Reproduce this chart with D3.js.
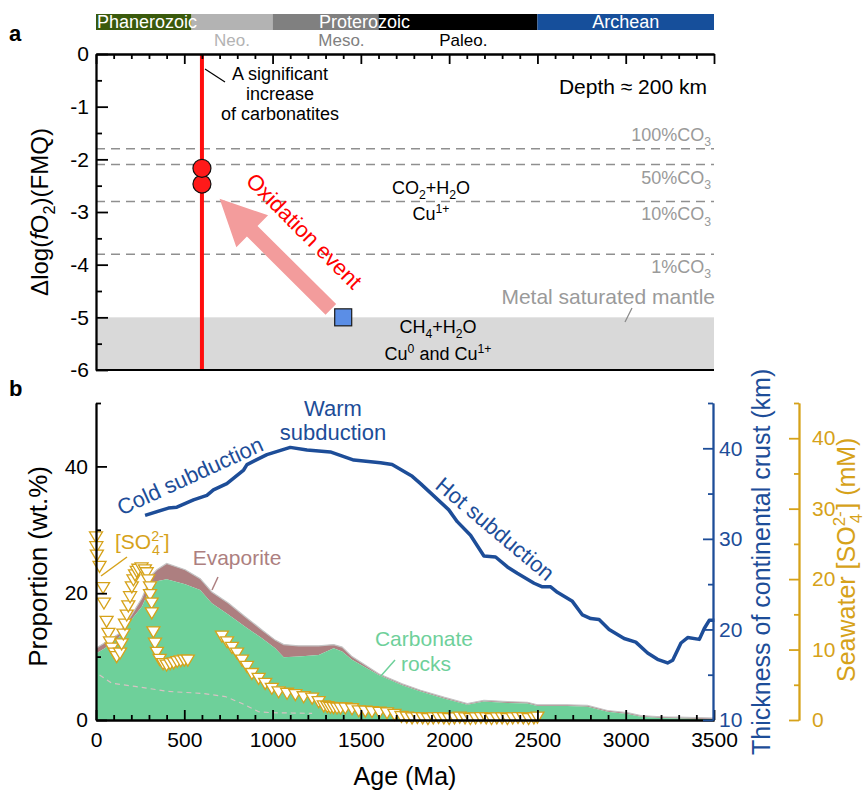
<!DOCTYPE html>
<html>
<head>
<meta charset="utf-8">
<script src="https://cdn.jsdelivr.net/npm/d3@7"></script>
<style>
  body { margin: 0; background: #fff; }
  svg text { font-family: "Liberation Sans", Arial, Helvetica, sans-serif; }
</style>
</head>
<body>
<svg id="chart" width="867" height="792"></svg>
<script>
// ---- data ----
// geologic time bar (Ma)
const eonNames = ["Phanerozoic", "Proterozoic", "Archean"];
const segStart = [0, 541, 1000, 1600, 2500];
const segEnd = [541, 1000, 1600, 2500, 3500];
const eraNames = ["Neo.", "Meso.", "Paleo."];

// panel a
const xTicks = [0, 500, 1000, 1500, 2000, 2500, 3000, 3500];
const fo2Ticks = [0, -1, -2, -3, -4, -5, -6];
const co3Names = ["100%", "50%", "10%", "1%"];
const co3Levels = [-1.8, -2.1, -2.8, -3.8];
const eventAge = 600;
const kimberliteFo2 = [-2.47, -2.17];
const mantleAge = 1400, mantleFo2 = -5;

// panel b
const propTicks = [0, 20, 40];
const crustTicks = [10, 20, 30, 40];
const so4Ticks = [0, 10, 20, 30, 40];

const areaAge = [0, 50, 130, 200, 260, 316, 345, 400, 505, 590, 656, 751, 845, 940, 1015, 1063, 1148, 1261, 1346, 1394, 1450, 1601, 1734, 1838, 1970, 2103, 2197, 2330, 2443, 2500, 2670, 2783, 2897, 3010, 3086, 3199, 3294, 3500];
const carbonate = [10.5, 11.3, 13.0, 15.8, 17.9, 21.3, 21.9, 22.2, 21.4, 20.5, 18.4, 16.6, 14.7, 12.9, 11.3, 9.9, 10.0, 10.25, 11.3, 10.8, 9.5, 7.1, 5.5, 4.5, 3.4, 2.4, 2.9, 2.7, 2.6, 2.2, 2.2, 2.1, 1.3, 0.95, 0.5, 0.3, 0.25, 0.1];
const evaporiteTop = [11.3, 12.2, 13.6, 16.5, 19.2, 22.9, 23.7, 24.7, 23.7, 22.3, 20.2, 18.4, 16.3, 14.2, 12.6, 11.9, 11.7, 11.7, 11.9, 11.5, 10.0, 7.3, 5.7, 4.7, 3.6, 2.6, 3.1, 2.9, 2.8, 2.4, 2.4, 2.3, 1.5, 1.15, 0.7, 0.5, 0.45, 0.3];

const dashAge = [20, 89, 221, 410, 600, 732, 827, 921, 997, 1224];
const dashVal = [7.1, 5.8, 5.3, 4.5, 4.2, 3.7, 2.6, 1.3, 1.15, 1.05];

const crustAge = [278, 410, 458, 552, 628, 665, 741, 836, 855, 968, 1100, 1195, 1327, 1460, 1611, 1677, 1791, 1838, 1998, 2046, 2121, 2197, 2263, 2330, 2386, 2481, 2528, 2575, 2613, 2698, 2755, 2802, 2849, 2906, 2991, 3057, 3124, 3180, 3237, 3266, 3313, 3351, 3417, 3445, 3473, 3502];
const crustKm = [32.6, 33.4, 33.5, 34.3, 34.8, 35.4, 36.1, 37.6, 38.2, 39.3, 40.1, 39.8, 39.6, 38.7, 38.4, 38.2, 36.9, 36.1, 33.2, 31.9, 30.4, 28.1, 28.0, 26.9, 26.2, 25.1, 24.7, 24.7, 24.1, 23.1, 21.6, 21.2, 21.1, 20.0, 19.0, 18.6, 17.4, 16.7, 16.3, 16.6, 18.5, 19.1, 18.9, 20.1, 21.0, 21.0];

const so4Age = [0, 2, 5, 20, 40, 45, 60, 70, 79, 89, 105, 117,
  136, 145, 155, 164, 174, 183, 193, 203, 212, 221, 231, 240, 258, 277, 287, 296, 306, 306, 315, 316,
  325, 334, 345, 360, 380, 400, 420, 440, 460, 480, 500, 520,
  713, 742, 770, 799, 827, 855, 883, 921, 958, 996, 1034, 1082, 1129, 1176, 1224, 1261, 1290, 1310, 1327, 1345, 1365, 1385, 1412, 1450, 1488, 1525, 1563, 1605, 1648, 1690,
  1730, 1760, 1790, 1820, 1850, 1880, 1910, 1940, 1970, 2000, 2030, 2060, 2090, 2120, 2150, 2180, 2210, 2240, 2270, 2300, 2330, 2360, 2390, 2420, 2450, 2480, 2500];
const so4mM = [26.0, 24.6, 23.4, 21.8, 18.8, 16.6, 14.0, 12.3, 11.1, 10.2, 9.5, 9.0,
  9.5, 10.8, 12.2, 13.6, 14.9, 16.2, 17.5, 18.9, 19.9, 20.6, 21.1, 21.4, 21.6, 21.3, 20.9, 19.9, 18.9, 17.8, 16.6, 15.2,
  12.5, 10.9, 9.6, 8.6, 8.0, 7.8, 8.0, 8.1, 8.3, 8.4, 8.5, 8.5,
  11.9, 11.1, 10.3, 9.5, 8.5, 7.6, 6.6, 5.9, 5.2, 4.5, 4.0, 3.8, 3.6, 3.3, 3.1, 2.6, 2.0, 1.9, 1.8, 1.75, 1.7, 1.7, 1.7, 1.6, 1.3, 1.25, 1.2, 1.1, 1.0, 0.8,
  0.5, 0.4, 0.3, 0.35, 0.3, 0.2, 0.3, 0.35, 0.3, 0.2, 0.3, 0.4, 0.3, 0.2, 0.3, 0.35, 0.3, 0.2, 0.3, 0.3, 0.2, 0.3, 0.35, 0.3, 0.2, 0.3, 0.4];

// ---- drawing ----
const svg = d3.select("#chart");
const x = d3.scaleLinear().domain([0, 3500]).range([96, 714]);
const yA = d3.scaleLinear().domain([-6, 0]).range([370, 54]);
const yP = d3.scaleLinear().domain([0, 50]).range([720, 403]);
const yC = d3.scaleLinear().domain([10, 45]).range([720, 403]);
const yS = d3.scaleLinear().domain([0, 45]).range([720, 403]);

const BLUE = "#1d4d98", GOLD = "#d6a21a", GREEN = "#6ed09a", EVAP = "#ad7f80", RED = "#ff0d0d";

// text with sub/superscripts: parts = [[text, mode, extra]]
function rich(sel, parts, size) {
  let shift = 0;
  parts.forEach(([t, mode, extra]) => {
    const target = mode === "sub" ? size * 0.28 : mode === "sup" ? -size * 0.4 : 0;
    const ts = sel.append("tspan").attr("dy", target - shift).text(t);
    if (mode) ts.style("font-size", (size * 0.68) + "px");
    if (extra && extra.dx) ts.attr("dx", extra.dx);
    if (extra && extra.italic) ts.style("font-style", "italic");
    shift = target;
  });
  return sel;
}

// time bar
const segColors = ["#3a5a0c", "#b3b3b3", "#808080", "#000000", "#164f9b"];
svg.selectAll("rect.eon").data(segStart).join("rect")
  .attr("x", d => x(d)).attr("y", 14)
  .attr("width", (d, i) => x(segEnd[i]) - x(d)).attr("height", 16)
  .attr("fill", (d, i) => segColors[i]);
const eonPos = [[x(0) + 1, "start"], [x((541 + 2500) / 2), "middle"], [x(3000), "middle"]];
eonNames.forEach((n, i) => {
  svg.append("text").attr("x", eonPos[i][0]).attr("y", 28).attr("text-anchor", eonPos[i][1])
    .attr("fill", "#fff").style("font-size", "18px").text(n);
});
const eraAt = [770, 1390, 2080], eraColors = ["#b3b3b3", "#808080", "#000"];
eraNames.forEach((n, i) => {
  svg.append("text").attr("x", x(eraAt[i])).attr("y", 46).attr("text-anchor", "middle")
    .attr("fill", eraColors[i]).style("font-size", "17px").text(n);
});

// panel labels
svg.append("text").attr("x", 9).attr("y", 41).style("font-size", "22px").style("font-weight", "bold").text("a");
svg.append("text").attr("x", 9).attr("y", 396).style("font-size", "22px").style("font-weight", "bold").text("b");

// ===== panel a =====
const gA = svg.append("g");
gA.append("rect").attr("x", x(0)).attr("y", yA(-5)).attr("width", x(3500) - x(0))
  .attr("height", yA(-6) - yA(-5)).attr("fill", "#d9d9d9");

gA.selectAll("line.co3").data(co3Levels).join("line")
  .attr("x1", x(0)).attr("x2", x(3500)).attr("y1", d => yA(d)).attr("y2", d => yA(d))
  .attr("stroke", "#8f8f8f").attr("stroke-width", 1.5).attr("stroke-dasharray", "9,6");
co3Levels.forEach((lv, i) => {
  const t = gA.append("text").attr("x", 711).attr("y", yA(lv) + (i === 0 ? -8 : 19))
    .attr("text-anchor", "end").attr("fill", "#9a9a9a").style("font-size", "18px");
  rich(t, [[co3Names[i] + "CO"], ["3", "sub"]], 18);
});

// oxidation arrow
const tail = [x(1330), yA(-4.85)], tip = [x(700), yA(-2.75)];
const dx = tip[0] - tail[0], dy = tip[1] - tail[1], len = Math.hypot(dx, dy);
const ux = dx / len, uy = dy / len, px = -uy, py = ux;
const sw = 7.5, hl = 46, hw = 22.5;
const bx = tip[0] - ux * hl, by = tip[1] - uy * hl;
const arrowPts = [
  [tail[0] + px * sw, tail[1] + py * sw], [bx + px * sw, by + py * sw], [bx + px * hw, by + py * hw],
  tip, [bx - px * hw, by - py * hw], [bx - px * sw, by - py * sw], [tail[0] - px * sw, tail[1] - py * sw]];
gA.append("path").attr("d", d3.line()(arrowPts) + "Z").attr("fill", "#f39c9c");

gA.append("text").attr("transform", `translate(304,231) rotate(45)`).attr("text-anchor", "middle")
  .attr("dominant-baseline", "central").attr("fill", "#ff0000").style("font-size", "22px").text("Oxidation event");

// red line + points
gA.append("line").attr("x1", x(eventAge)).attr("x2", x(eventAge)).attr("y1", yA(-0.01)).attr("y2", yA(-5.98))
  .attr("stroke", RED).attr("stroke-width", 4);
gA.selectAll("circle.k").data(kimberliteFo2).join("circle")
  .attr("cx", x(eventAge)).attr("cy", d => yA(d)).attr("r", 9)
  .attr("fill", "#ff1a1a").attr("stroke", "#111").attr("stroke-width", 1.2);
gA.append("rect").attr("x", x(mantleAge) - 8.5).attr("y", yA(mantleFo2) - 8.5).attr("width", 17).attr("height", 17)
  .attr("fill", "#5b8ee6").attr("stroke", "#1a1a1a").attr("stroke-width", 1.2);

// axes panel a
const axA = gA.append("g").attr("transform", `translate(${x(0)},0)`);
axA.call(d3.axisLeft(yA).tickValues(fo2Ticks).tickSize(-12).tickSizeOuter(0).tickPadding(7).tickFormat(d => String(d)));
gA.append("g").attr("transform", `translate(${x(0)},0)`)
  .call(d3.axisLeft(yA).tickValues(d3.range(-5.5, 0, 1)).tickSize(-6).tickSizeOuter(0).tickFormat(""));
gA.append("g").attr("transform", `translate(0,${yA(0)})`)
  .call(d3.axisTop(x).tickValues(xTicks).tickSize(-10).tickSizeOuter(0).tickFormat(""));
gA.append("g").attr("transform", `translate(0,${yA(0)})`)
  .call(d3.axisTop(x).tickValues(d3.range(100, 3500, 100).filter(d => d % 500)).tickSize(-5).tickSizeOuter(0).tickFormat(""));
gA.append("line").attr("x1", x(0)).attr("x2", x(3500)).attr("y1", yA(-6)).attr("y2", yA(-6)).attr("stroke", "#000").attr("stroke-width", 1.8);

// annotations panel a
const ann = gA.append("text").attr("text-anchor", "middle").style("font-size", "18px");
["A significant", "increase", "of carbonatites"].forEach((s, i) =>
  ann.append("tspan").attr("x", 280).attr("y", 80 + i * 20).text(s));
gA.append("line").attr("x1", 205).attr("y1", 69).attr("x2", 225).attr("y2", 82).attr("stroke", "#000").attr("stroke-width", 1.2);
gA.append("text").attr("x", 707).attr("y", 94).attr("text-anchor", "end").style("font-size", "21px").text("Depth \u2248 200 km");
rich(gA.append("text").attr("x", 431).attr("y", 194).attr("text-anchor", "middle").style("font-size", "18px"),
  [["CO"], ["2", "sub"], ["+H"], ["2", "sub"], ["O"]], 18);
rich(gA.append("text").attr("x", 431).attr("y", 220).attr("text-anchor", "middle").style("font-size", "18px"),
  [["Cu"], ["1+", "sup"]], 18);
gA.append("text").attr("x", 715).attr("y", 304).attr("text-anchor", "end").attr("fill", "#9a9a9a").style("font-size", "21px").text("Metal saturated mantle");
gA.append("line").attr("x1", 632).attr("y1", 308).attr("x2", 625).attr("y2", 322).attr("stroke", "#8a8a8a").attr("stroke-width", 1.2);
rich(gA.append("text").attr("x", 438).attr("y", 333).attr("text-anchor", "middle").style("font-size", "18px"),
  [["CH"], ["4", "sub"], ["+H"], ["2", "sub"], ["O"]], 18);
rich(gA.append("text").attr("x", 438).attr("y", 360).attr("text-anchor", "middle").style("font-size", "18px"),
  [["Cu"], ["0", "sup"], [" and Cu"], ["1+", "sup"]], 18);

// y title panel a
const tA = svg.append("text").attr("transform", `translate(48,212) rotate(-90)`).attr("text-anchor", "middle").style("font-size", "24px");
rich(tA, [["\u0394log("], ["f", null, { italic: true }], ["O"], ["2", "sub"], [")(FMQ)"]], 24);

// ===== panel b =====
const gB = svg.append("g");
const idx = d3.range(areaAge.length);
gB.append("path").datum(idx)
  .attr("d", d3.area().x(i => x(areaAge[i])).y0(i => yP(carbonate[i])).y1(i => yP(evaporiteTop[i])))
  .attr("fill", EVAP);
gB.append("path").datum(idx)
  .attr("d", d3.area().x(i => x(areaAge[i])).y0(yP(0)).y1(i => yP(carbonate[i])))
  .attr("fill", GREEN);
gB.append("path").datum(idx)
  .attr("d", d3.line().x(i => x(areaAge[i])).y(i => yP(evaporiteTop[i])))
  .attr("fill", "none").attr("stroke", "#c4c4c4").attr("stroke-width", 1.2);
gB.append("path").datum(d3.range(dashAge.length))
  .attr("d", d3.line().x(i => x(dashAge[i])).y(i => yP(dashVal[i])))
  .attr("fill", "none").attr("stroke", "#d8c2c4").attr("stroke-width", 1.2).attr("stroke-dasharray", "5,4");

// seawater sulfate triangles
const tri = "M-6.5,-5 L6.5,-5 L0,6 Z";
gB.selectAll("path.so4").data(d3.range(so4Age.length)).join("path")
  .attr("transform", i => `translate(${x(so4Age[i])},${yS(so4mM[i])})`)
  .attr("d", tri).attr("fill", "#fff").attr("stroke", GOLD).attr("stroke-width", 1.3);

// crust thickness
gB.append("path").datum(d3.range(crustAge.length))
  .attr("d", d3.line().x(i => x(crustAge[i])).y(i => yC(crustKm[i])))
  .attr("fill", "none").attr("stroke", BLUE).attr("stroke-width", 3.5).attr("stroke-linejoin", "round");

// axes panel b
const axB = gB.append("g");
axB.append("g").attr("transform", `translate(0,${yP(0)})`)
  .call(d3.axisBottom(x).tickValues(xTicks).tickSize(-10).tickSizeOuter(0).tickPadding(12).tickFormat(d => String(d)));
axB.append("g").attr("transform", `translate(0,${yP(0)})`)
  .call(d3.axisBottom(x).tickValues(d3.range(100, 3500, 100).filter(d => d % 500)).tickSize(-5).tickSizeOuter(0).tickFormat(""));
axB.append("g").attr("transform", `translate(${x(0)},0)`)
  .call(d3.axisLeft(yP).tickValues(propTicks).tickSize(-11).tickSizeOuter(0).tickPadding(8));
axB.append("g").attr("transform", `translate(${x(0)},0)`)
  .call(d3.axisLeft(yP).tickValues([10, 30, 50]).tickSize(-5).tickSizeOuter(0).tickFormat(""));
axB.append("g").attr("transform", `translate(713,0)`).attr("color", BLUE)
  .call(d3.axisRight(yC).tickValues(crustTicks).tickSize(-10).tickSizeOuter(0).tickPadding(6));
axB.append("g").attr("transform", `translate(713,0)`).attr("color", BLUE)
  .call(d3.axisRight(yC).tickValues([15, 25, 35, 45]).tickSize(-5).tickSizeOuter(0).tickFormat(""));
axB.append("g").attr("transform", `translate(799,0)`).attr("color", GOLD)
  .call(d3.axisRight(yS).tickValues(so4Ticks).tickSize(-10).tickSizeOuter(0).tickPadding(13));
axB.append("g").attr("transform", `translate(799,0)`).attr("color", GOLD)
  .call(d3.axisRight(yS).tickValues([5, 15, 25, 35, 45]).tickSize(-5).tickSizeOuter(0).tickFormat(""));

// common axis styling
svg.selectAll(".domain, .tick line").attr("stroke-width", 1.8);
svg.selectAll("g[font-family]").attr("font-family", null).attr("font-size", null);
svg.selectAll(".tick text").style("font-size", "21px");

// titles panel b
svg.append("text").attr("x", x(1750)).attr("y", 785).attr("text-anchor", "middle").style("font-size", "25px").text("Age (Ma)");
svg.append("text").attr("transform", `translate(47,466) rotate(-90)`).attr("text-anchor", "end").style("font-size", "26px").text("Proportion (wt.%)");
svg.append("text").attr("transform", `translate(770,755) rotate(-90)`).attr("fill", BLUE).style("font-size", "25px").text("Thickness of continental crust (km)");
rich(svg.append("text").attr("transform", `translate(855,682) rotate(-90)`).attr("fill", GOLD).style("font-size", "25px"),
  [["Seawater [SO"], ["2-", "sup"], ["4", "sub", { dx: -12 }], ["] (mM)", null, { dx: 4 }]], 25);

// labels panel b
const lbl = (tx, ty, rot, s, col) => gB.append("text")
  .attr("transform", `translate(${tx},${ty}) rotate(${rot})`).attr("text-anchor", "middle")
  .attr("dominant-baseline", "central").attr("fill", col).style("font-size", "22px").text(s);
lbl(190, 476, -24.6, "Cold subduction", BLUE);
lbl(495, 529, 40, "Hot subduction", BLUE);
gB.append("text").attr("x", 333).attr("y", 416).attr("text-anchor", "middle").attr("fill", BLUE).style("font-size", "22px").text("Warm");
gB.append("text").attr("x", 333).attr("y", 440).attr("text-anchor", "middle").attr("fill", BLUE).style("font-size", "22px").text("subduction");

gB.append("text").attr("x", 237).attr("y", 565).attr("text-anchor", "middle").attr("fill", EVAP).style("font-size", "21px").text("Evaporite");
gB.append("line").attr("x1", 218).attr("y1", 577).attr("x2", 212).attr("y2", 590).attr("stroke", EVAP).attr("stroke-width", 1.5);
gB.append("text").attr("x", 424).attr("y", 646).attr("text-anchor", "middle").attr("fill", GREEN).style("font-size", "21px").text("Carbonate");
gB.append("text").attr("x", 426).attr("y", 671).attr("text-anchor", "middle").attr("fill", GREEN).style("font-size", "21px").text("rocks");
gB.append("line").attr("x1", 395).attr("y1", 660).attr("x2", 380).attr("y2", 677).attr("stroke", GREEN).attr("stroke-width", 1.5);
rich(gB.append("text").attr("x", 115).attr("y", 549).attr("fill", GOLD).style("font-size", "21px"),
  [["[SO"], ["2-", "sup"], ["4", "sub", { dx: -12 }], ["]", null, { dx: 4 }]], 21);
gB.append("line").attr("x1", 127).attr("y1", 557).attr("x2", 101).attr("y2", 576).attr("stroke", GOLD).attr("stroke-width", 1.5);
</script>
</body>
</html>
